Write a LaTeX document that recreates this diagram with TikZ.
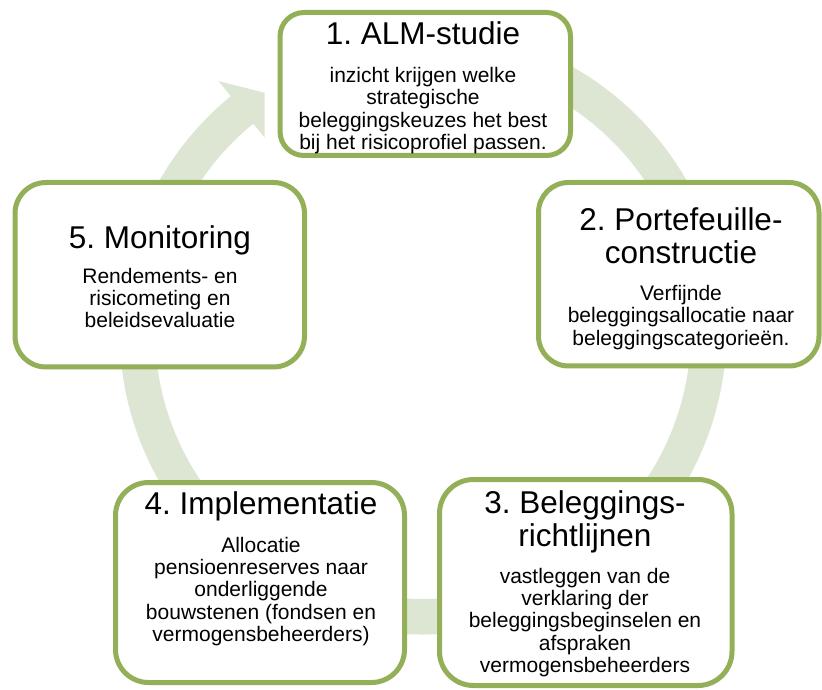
\documentclass[tikz,border=0pt]{standalone}
\usepackage{fontspec}
\setmainfont{Liberation Sans}
\frenchspacing
\definecolor{boxline}{HTML}{93B058}
\definecolor{ringfill}{HTML}{DDE6D2}

\tikzset{
  stepbox/.style={draw=boxline, line width=5pt, fill=white, inner sep=0pt},
  steptitle/.style={align=center, font=\fontsize{31.5}{33}\selectfont, inner sep=0pt},
  stepbody/.style={align=center, font=\fontsize{21}{22.2}\selectfont, inner sep=0pt},
}

\begin{document}
\begin{tikzpicture}[x=1pt,y=1pt]
\useasboundingbox (0,0) rectangle (822,689);

% circular arrow behind the five steps
\begin{scope}[shift={(423,358)}]
  \fill[ringfill] (95:303.5)
    arc[start angle=95, end angle=-230.7, radius=303.5]
    -- (129.3:323) -- (123.6:286) -- (129.3:250) -- (129.3:268)
    arc[start angle=129.3, end angle=455, radius=268] -- cycle;
\end{scope}

% step boxes
\node[stepbox, rounded corners=24pt, minimum width=290.5pt, minimum height=143pt] (b1) at (425.25,605) {};
\node[stepbox, rounded corners=30pt, minimum width=280.5pt, minimum height=183.5pt] (b2) at (678.75,414.75) {};
\node[stepbox, rounded corners=34pt, minimum width=292.5pt, minimum height=206pt] (b3) at (585.75,106.5) {};
\node[stepbox, rounded corners=33pt, minimum width=289pt, minimum height=200pt] (b4) at (260,106.5) {};
\node[stepbox, rounded corners=31pt, minimum width=289.5pt, minimum height=184.5pt] (b5) at (159.75,414.25) {};

% step 1
\node[steptitle] (t1) at (423,656) {1. ALM-studie};
\node[stepbody] (d1) at (423,578.5) {inzicht krijgen welke\\strategische\\beleggingskeuzes het best\\bij het risicoprofiel passen.};

% step 2
\node[steptitle] (t2) at (681,453) {2. Portefeuille-\\constructie};
\node[stepbody] (d2) at (681,371.5) {Verfijnde\\beleggingsallocatie naar\\beleggingscategorieën.};

% step 3
\node[steptitle] (t3) at (585,167) {3. Beleggings-\\richtlijnen};
\node[stepbody] (d3) at (585,66.5) {vastleggen van de\\verklaring der\\beleggingsbeginselen en\\afspraken\\vermogensbeheerders};

% step 4
\node[steptitle] (t4) at (261,183) {4. Implementatie};
\node[stepbody] (d4) at (261,97.5) {Allocatie\\pensioenreserves naar\\onderliggende\\bouwstenen (fondsen en\\vermogensbeheerders)};

% step 5
\node[steptitle] (t5) at (160,449) {5. Monitoring};
\node[stepbody] (d5) at (160,391) {Rendements- en\\risicometing en\\beleidsevaluatie};
\end{tikzpicture}
\end{document}
